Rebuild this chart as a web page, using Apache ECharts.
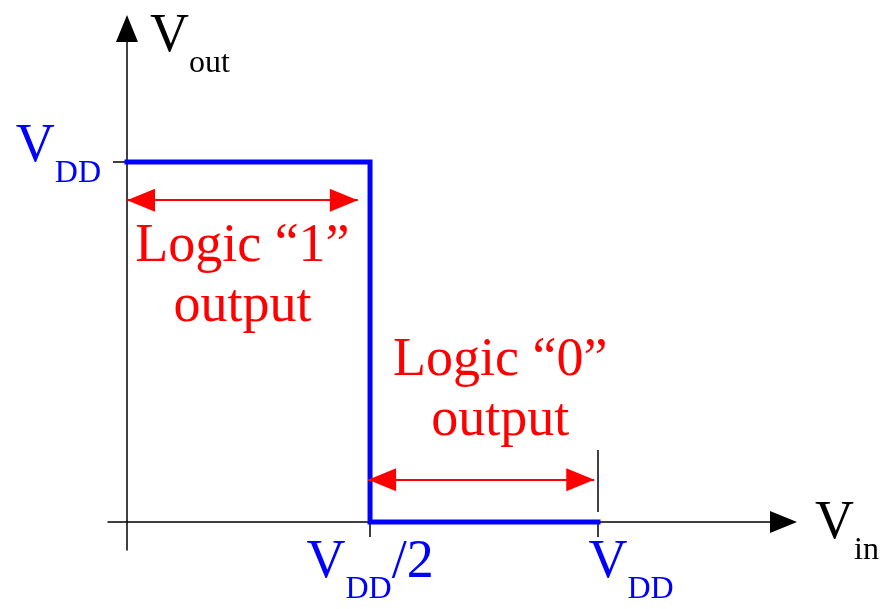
<!DOCTYPE html>
<html>
<head>
<meta charset="utf-8">
<script src="https://cdn.jsdelivr.net/npm/echarts@6/dist/echarts.min.js"></script>
<style>
  html, body { margin: 0; padding: 0; background: #fff; }
  #chart { width: 885px; height: 609px; }
</style>
</head>
<body>
<div id="chart"></div>
<script>
// values in units of VDD
const vdd = 1;
const vSwitch = 0.516; // switching point, labelled VDD/2
const vtcX = [0, vSwitch, vSwitch, vdd];
const vtcY = [vdd, vdd, 0, 0];

// red double arrows: [xFrom, xTo, y]
const logic1Arrow = [0, 0.49, 0.894];
const logic0Arrow = [0.512, 0.992, 0.117];
const logic1Text = 'Logic “1”\noutput';
const logic0Text = 'Logic “0”\noutput';

// thin marker above the axis at VDD: [x, yFrom, yTo]
const vddMarker = [vdd, 0.028, 0.2];

const xTicks = [vSwitch, vdd];
const xTickLabels = ['{v|V}{sub|DD}{v|/2}', '{sp|}{v|V}{sub|DD}'];
const yTicks = [vdd];
const yTickLabels = ['{v|V}{sub|DD}'];
const xName = '{v|V}{sub|in}';
const yName = '{v|V}{sub|out}';

const serif = "'Liberation Serif', 'Times New Roman', serif";
const blue = '#0000ff';
const red = '#ff0000';

function richFor(color) {
  return {
    v: { fontFamily: serif, fontSize: 54, lineHeight: 60, verticalAlign: 'top', color: color },
    sub: { fontFamily: serif, fontSize: 32, lineHeight: 32, verticalAlign: 'top', padding: [38, 0, 0, 0], color: color },
    sp: { width: 66, lineHeight: 60, verticalAlign: 'top' }
  };
}

const chart = echarts.init(document.getElementById('chart'));

const axisLine = { lineStyle: { color: '#000', width: 1.5 } };

function arrowSeries(arrow, text, position, distance, offset) {
  return {
    type: 'line',
    data: [],
    silent: true,
    markLine: {
      silent: true,
      animation: false,
      symbol: ['triangle', 'triangle'],
      symbolSize: [23, 28],
      symbolOffset: [[0, 14], [0, 14]],
      lineStyle: { color: red, width: 2, type: 'solid' },
      label: {
        show: true,
        position: position,
        distance: distance,
        offset: offset,
        formatter: text,
        color: red,
        fontFamily: serif,
        fontSize: 54,
        lineHeight: 60,
        align: 'center'
      },
      data: [[{ coord: [arrow[0], arrow[2]] }, { coord: [arrow[1], arrow[2]] }]]
    }
  };
}

chart.setOption({
  animation: false,
  grid: { left: 108, right: 101.5, top: 28.5, bottom: 59, outerBoundsMode: 'none' },
  xAxis: {
    type: 'value',
    min: -0.0403,
    max: 1.3938,
    splitLine: { show: false },
    axisLine: Object.assign({ onZero: true, symbol: ['none', 'triangle'], symbolSize: [22, 27] }, axisLine),
    axisTick: { show: true, customValues: xTicks, length: 15, lineStyle: { color: '#000', width: 1.5 } },
    axisLabel: {
      show: true,
      customValues: xTicks,
      margin: -14.5,
      verticalAlign: 'top',
      formatter: function (v) { return xTickLabels[xTicks.indexOf(v)] || ''; },
      rich: richFor(blue)
    },
    name: xName,
    nameLocation: 'end',
    nameGap: 31.5,
    nameTextStyle: { align: 'left', verticalAlign: 'middle', padding: [10, 0, 0, 0], rich: richFor('#000') }
  },
  yAxis: {
    type: 'value',
    min: -0.0778,
    max: 1.3708,
    splitLine: { show: false },
    axisLine: Object.assign({ onZero: true, symbol: ['none', 'triangle'], symbolSize: [22, 27] }, axisLine),
    axisTick: { show: true, customValues: yTicks, length: 14, lineStyle: { color: '#000', width: 1.5 } },
    axisLabel: {
      show: true,
      customValues: yTicks,
      margin: 7,
      padding: [0, 0, 24, 0],
      formatter: function (v) { return yTickLabels[yTicks.indexOf(v)] || ''; },
      rich: richFor(blue)
    },
    name: yName,
    nameLocation: 'end',
    nameGap: 19,
    nameTextStyle: { align: 'left', verticalAlign: 'top', padding: [0, 0, 0, 23], rich: richFor('#000') }
  },
  series: [
    {
      type: 'line',
      data: vtcX.map((x, i) => [x, vtcY[i]]),
      showSymbol: false,
      silent: true,
      lineStyle: { color: blue, width: 5, join: 'miter', cap: 'square' }
    },
    arrowSeries(logic1Arrow, logic1Text, 'insideMiddleBottom', 17, [0, 0]),
    arrowSeries(logic0Arrow, logic0Text, 'insideMiddleTop', 29, [19, 0]),
    {
      type: 'line',
      data: [],
      silent: true,
      markLine: {
        silent: true,
        animation: false,
        symbol: ['none', 'none'],
        label: { show: false },
        lineStyle: { color: '#000', width: 1.5, type: 'solid' },
        data: [[{ coord: [vddMarker[0], vddMarker[1]] }, { coord: [vddMarker[0], vddMarker[2]] }]]
      }
    }
  ]
});
window.addEventListener('resize', () => chart.resize());
</script>
</body>
</html>
